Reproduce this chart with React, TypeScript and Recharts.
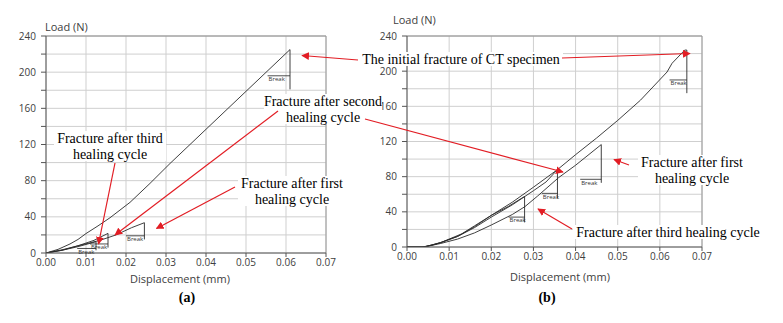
import React from 'react';
import { LineChart, Line, XAxis, YAxis, CartesianGrid, ReferenceLine } from 'recharts';

// ---------- data ----------
const xTicks = [0, 0.01, 0.02, 0.03, 0.04, 0.05, 0.06, 0.07];
const yTicks = [0, 20, 40, 60, 80, 100, 120, 140, 160, 180, 200, 220, 240];

// Panel (a)
const a_initial = [
  { x: 0, y: 0 }, { x: 0.003, y: 4 }, { x: 0.006, y: 10 }, { x: 0.008, y: 15 }, { x: 0.01, y: 21.5 },
  { x: 0.013, y: 30 }, { x: 0.016, y: 39 }, { x: 0.021, y: 56 }, { x: 0.026, y: 77 }, { x: 0.031, y: 99 },
  { x: 0.036, y: 120 }, { x: 0.041, y: 141 }, { x: 0.046, y: 162 }, { x: 0.051, y: 183 }, { x: 0.056, y: 204 },
  { x: 0.061, y: 225 }, { x: 0.061, y: 181 },
];
const a_first = [
  { x: 0, y: 0 }, { x: 0.004, y: 3 }, { x: 0.008, y: 8 }, { x: 0.0135, y: 14 }, { x: 0.0175, y: 20 },
  { x: 0.0214, y: 28 }, { x: 0.0246, y: 33.5 }, { x: 0.0246, y: 15 },
];
const a_second = [
  { x: 0, y: 0 }, { x: 0.004, y: 3.5 }, { x: 0.008, y: 8 }, { x: 0.012, y: 14 }, { x: 0.0155, y: 21.7 }, { x: 0.0155, y: 6 },
];
const a_third = [
  { x: 0, y: 0 }, { x: 0.004, y: 3 }, { x: 0.008, y: 7 }, { x: 0.0125, y: 12.5 }, { x: 0.0125, y: 3 },
];
const a_breaks = [
  { x1: 0.0554, x2: 0.061, y: 196 },
  { x1: 0.02, x2: 0.0246, y: 19 },
  { x1: 0.011, x2: 0.0155, y: 10 },
  { x1: 0.0078, x2: 0.0125, y: 5 },
];

// Panel (b)
const b_initial = [
  { x: 0, y: 0 }, { x: 0.0035, y: 0 }, { x: 0.006, y: 2 }, { x: 0.008, y: 5 }, { x: 0.01, y: 9 },
  { x: 0.013, y: 15 }, { x: 0.016, y: 24 }, { x: 0.02, y: 36 }, { x: 0.025, y: 51 }, { x: 0.03, y: 68 },
  { x: 0.0357, y: 88 }, { x: 0.04, y: 105 }, { x: 0.045, y: 124 }, { x: 0.05, y: 144 }, { x: 0.0554, y: 167 },
  { x: 0.0617, y: 199 }, { x: 0.0629, y: 209 }, { x: 0.0659, y: 224 }, { x: 0.0664, y: 224 }, { x: 0.0664, y: 175 },
];
const b_first = [
  { x: 0, y: 0 }, { x: 0.004, y: 0 }, { x: 0.008, y: 4 }, { x: 0.012, y: 9 }, { x: 0.016, y: 16 },
  { x: 0.02, y: 25 }, { x: 0.025, y: 37 }, { x: 0.028, y: 46 }, { x: 0.031, y: 58 }, { x: 0.036, y: 79 },
  { x: 0.04, y: 93 }, { x: 0.0461, y: 116.5 }, { x: 0.0461, y: 73 },
];
const b_second = [
  { x: 0, y: 0 }, { x: 0.004, y: 0 }, { x: 0.008, y: 5 }, { x: 0.012, y: 12 }, { x: 0.016, y: 22 },
  { x: 0.02, y: 34 }, { x: 0.025, y: 48 }, { x: 0.03, y: 64 }, { x: 0.033, y: 74 }, { x: 0.0357, y: 88 }, { x: 0.0357, y: 55 },
];
const b_third = [
  { x: 0, y: 0 }, { x: 0.004, y: 0 }, { x: 0.008, y: 5 }, { x: 0.012, y: 12 }, { x: 0.016, y: 23 },
  { x: 0.02, y: 36 }, { x: 0.024, y: 46 }, { x: 0.0279, y: 57.5 }, { x: 0.0279, y: 28 },
];
const b_breaks = [
  { x1: 0.0623, x2: 0.0664, y: 190 },
  { x1: 0.0411, x2: 0.0461, y: 77 },
  { x1: 0.032, x2: 0.0357, y: 61 },
  { x1: 0.0241, x2: 0.0279, y: 34 },
];

const annotations = [
  { lines: ['The initial fracture of CT specimen'], cx: 461, cy: 59, w: 204 },
  { lines: ['Fracture after second', 'healing cycle'], cx: 323, cy: 109, w: 118 },
  { lines: ['Fracture after third', 'healing cycle'], cx: 110, cy: 146, w: 112 },
  { lines: ['Fracture after first', 'healing cycle'], cx: 292, cy: 191, w: 108 },
  { lines: ['Fracture after first', 'healing cycle'], cx: 692, cy: 170, w: 108 },
  { lines: ['Fracture after third healing cycle'], cx: 668, cy: 232, w: 190 },
];
const arrows = [
  { x1: 358, y1: 60, x2: 302, y2: 55.5 },
  { x1: 562, y1: 58, x2: 690, y2: 53.5 },
  { x1: 278, y1: 111, x2: 115, y2: 235 },
  { x1: 365, y1: 119, x2: 563, y2: 172 },
  { x1: 115, y1: 163, x2: 98.5, y2: 244 },
  { x1: 235, y1: 187, x2: 156.5, y2: 228.5 },
  { x1: 629, y1: 165, x2: 614, y2: 159.5 },
  { x1: 572, y1: 229, x2: 538, y2: 209 },
];

const SANS = 'Open Sans, Liberation Sans, sans-serif';
const SERIF = 'Liberation Serif, Times New Roman, serif';
const RED = '#e21d24';

type Pt = { x: number; y: number };
type Br = { x1: number; x2: number; y: number };

function Panel(props: {
  width: number;
  margin: { top: number; right: number; bottom: number; left: number };
  yWidth: number;
  series: Pt[][];
  breaks: Br[];
}) {
  const { width, margin, yWidth, series, breaks } = props;
  return (
    <LineChart width={width} height={323} margin={margin} style={{ fontFamily: SANS }}>
      <CartesianGrid stroke="#cfcfcf" strokeWidth={1} />
      <XAxis
        type="number"
        dataKey="x"
        domain={[0, 0.07]}
        ticks={xTicks}
        allowDataOverflow
        height={20}
        tickSize={4}
        tickMargin={2}
        tickFormatter={(v: number) => v.toFixed(2)}
        tick={{ fontSize: 10, fill: '#404040' }}
        axisLine={{ stroke: '#555' }}
        tickLine={{ stroke: '#555' }}
      />
      <YAxis
        type="number"
        domain={[0, 240]}
        ticks={yTicks}
        allowDataOverflow
        width={yWidth}
        tickSize={5}
        tickMargin={5}
        interval={0}
        tickFormatter={(v: number) => (v % 40 === 0 ? String(v) : '')}
        tick={{ fontSize: 10, fill: '#404040' }}
        axisLine={{ stroke: '#555' }}
        tickLine={{ stroke: '#555' }}
      />
      <ReferenceLine y={240} stroke="#8a8a8a" />
      <ReferenceLine x={0.07} stroke="#9a9a9a" />
      {series.map((d, i) => (
        <Line
          key={i}
          data={d}
          dataKey="y"
          type="linear"
          stroke="#2a2a2a"
          strokeWidth={0.9}
          dot={false}
          isAnimationActive={false}
        />
      ))}
      {breaks.map((b, i) => (
        <ReferenceLine
          key={'b' + i}
          segment={[{ x: b.x1, y: b.y }, { x: b.x2, y: b.y }]}
          stroke="#222"
          strokeWidth={0.8}
          label={{ value: 'Break', position: 'insideTopLeft', offset: 1, fontSize: 6, fill: '#333' }}
        />
      ))}
    </LineChart>
  );
}

export default function App() {
  return (
    <div style={{ position: 'absolute', left: 0, top: 0, width: 783, height: 323, background: '#fff', overflow: 'hidden' }}>
      <div style={{ position: 'absolute', left: 0, top: 0 }}>
        <Panel
          width={390}
          margin={{ top: 36, right: 64, bottom: 50, left: 0 }}
          yWidth={46}
          series={[a_initial, a_first, a_second, a_third]}
          breaks={a_breaks}
        />
      </div>
      <div style={{ position: 'absolute', left: 360, top: 0 }}>
        <Panel
          width={400}
          margin={{ top: 36, right: 58, bottom: 56, left: 0 }}
          yWidth={47}
          series={[b_initial, b_first, b_second, b_third]}
          breaks={b_breaks}
        />
      </div>
      <svg width={783} height={323} style={{ position: 'absolute', left: 0, top: 0, pointerEvents: 'none' }}>
        <defs>
          <marker id="ah" viewBox="0 0 10 10" refX="9" refY="5" markerWidth="6.5" markerHeight="6.5" orient="auto">
            <path d="M0,0 L10,5 L0,10 z" fill={RED} />
          </marker>
        </defs>
        {/* axis titles */}
        <text x={45} y={26} fontFamily={SANS} fontSize={11} fill="#404040" dominantBaseline="central">Load (N)</text>
        <text x={393} y={19} fontFamily={SANS} fontSize={11} fill="#404040" dominantBaseline="central">Load (N)</text>
        <text x={180} y={278} fontFamily={SANS} fontSize={11} fill="#404040" textAnchor="middle" dominantBaseline="central">Displacement (mm)</text>
        <text x={560} y={276} fontFamily={SANS} fontSize={11} fill="#404040" textAnchor="middle" dominantBaseline="central">Displacement (mm)</text>
        <text x={187} y={297} fontFamily={SERIF} fontSize={14} fontWeight="bold" fill="#000" textAnchor="middle" dominantBaseline="central">(a)</text>
        <text x={547} y={297} fontFamily={SERIF} fontSize={14} fontWeight="bold" fill="#000" textAnchor="middle" dominantBaseline="central">(b)</text>
        {/* annotation boxes */}
        {annotations.map((a, i) => {
          const h = a.lines.length * 16 - 2;
          return (
            <g key={'an' + i}>
              <rect x={a.cx - a.w / 2} y={a.cy - h / 2} width={a.w} height={h} fill="#fff" />
              {a.lines.map((t, j) => (
                <text
                  key={j}
                  x={a.cx}
                  y={a.cy - ((a.lines.length - 1) * 16) / 2 + j * 16}
                  fontFamily={SERIF}
                  fontSize={14}
                  fill="#000"
                  textAnchor="middle"
                  dominantBaseline="central"
                >
                  {t}
                </text>
              ))}
            </g>
          );
        })}
        {arrows.map((r, i) => (
          <line key={'ar' + i} x1={r.x1} y1={r.y1} x2={r.x2} y2={r.y2} stroke={RED} strokeWidth={1.2} markerEnd="url(#ah)" />
        ))}
      </svg>
    </div>
  );
}
